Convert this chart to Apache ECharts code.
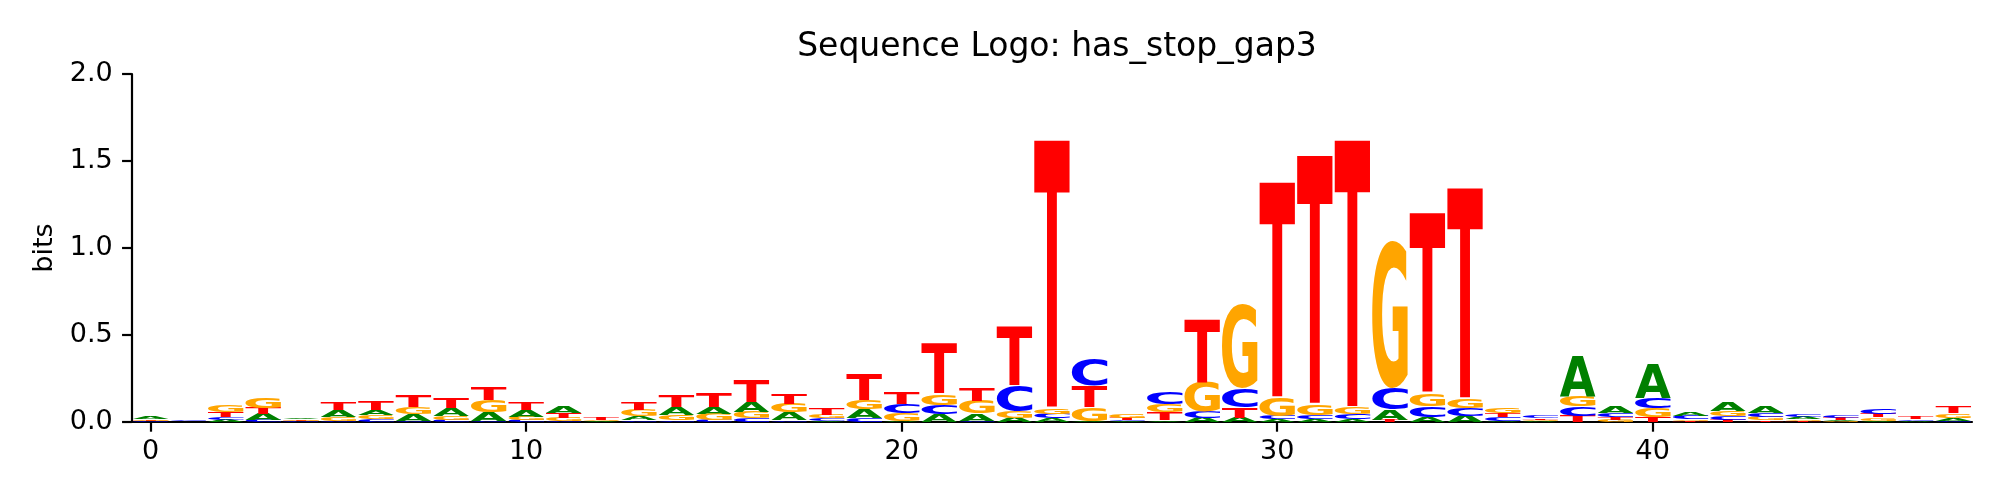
<!DOCTYPE html>
<html>
<head>
<meta charset="utf-8">
<title>Sequence Logo: has_stop_gap3</title>
<style>html,body{margin:0;padding:0;background:#fff;}</style>
</head>
<body>
<div id="main" style="width: 2000px;height:500px;"></div>
<script src="https://cdn.jsdelivr.net/npm/echarts@6/dist/echarts.min.js"></script>
<script>
// information content (bits) per letter
var positions = [0, 1, 2, 3, 4, 5, 6, 7, 8, 9, 10, 11, 12, 13, 14, 15, 16, 17, 18, 19, 20, 21, 22, 23, 24,
    25, 26, 27, 28, 29, 30, 31, 32, 33, 34, 35, 36, 37, 38, 39, 40, 41, 42, 43, 44, 45, 46, 47, 48];
var bitsA = [0.012, 0.001, 0.012, 0.033, 0.010, 0.038, 0.029, 0.038, 0.044, 0.052, 0.036, 0.040, 0.005,
    0.021, 0.046, 0.040, 0.056, 0.045, 0.008, 0.048, 0.006, 0.044, 0.040, 0.025, 0.021, 0.005, 0.005,
    0.010, 0.025, 0.025, 0.015, 0.015, 0.015, 0.061, 0.029, 0.034, 0.004, 0.004, 0.230, 0.033, 0.195,
    0.023, 0.050, 0.034, 0.011, 0.008, 0.008, 0.006, 0.017];
var bitsC = [0.003, 0.005, 0.014, 0.011, 0.003, 0.006, 0.015, 0.006, 0.011, 0.006, 0.011, 0.006, 0.002,
    0.010, 0.010, 0.013, 0.021, 0.010, 0.012, 0.025, 0.050, 0.054, 0.008, 0.149, 0.027, 0.159, 0.009,
    0.067, 0.034, 0.111, 0.019, 0.025, 0.029, 0.125, 0.063, 0.048, 0.023, 0.012, 0.057, 0.025, 0.061,
    0.021, 0.023, 0.023, 0.017, 0.015, 0.031, 0.010, 0.008];
var bitsG = [0.008, 0.001, 0.038, 0.065, 0.007, 0.023, 0.023, 0.042, 0.023, 0.067, 0.019, 0.019, 0.006,
    0.036, 0.031, 0.034, 0.038, 0.050, 0.020, 0.052, 0.046, 0.065, 0.074, 0.038, 0.031, 0.079, 0.025,
    0.048, 0.167, 0.484, 0.105, 0.061, 0.038, 0.850, 0.071, 0.052, 0.029, 0.007, 0.058, 0.012, 0.050,
    0.010, 0.031, 0.019, 0.010, 0.003, 0.018, 0.002, 0.025];
var bitsT = [0.005, 0.001, 0.030, 0.035, 0.005, 0.044, 0.054, 0.069, 0.057, 0.077, 0.044, 0.027, 0.011,
    0.044, 0.069, 0.084, 0.130, 0.060, 0.033, 0.153, 0.067, 0.287, 0.077, 0.339, 1.540, 0.123, 0.011,
    0.044, 0.360, 0.061, 1.238, 1.430, 1.537, 0.011, 1.030, 1.209, 0.025, 0.009, 0.034, 0.015, 0.029,
    0.006, 0.012, 0.010, 0.006, 0.013, 0.019, 0.013, 0.033];
var letters = ['A', 'C', 'G', 'T'];
var colors = ['#008000', '#0000ff', '#ffa500', '#ff0000'];
var xTicks = [0, 10, 20, 30, 40];

var letterWidth = 0.95;
var glyphFont = 'bold 200px "DejaVu Sans"';
var axisFont = '"DejaVu Sans"';

// ink box of each glyph, relative to a left / middle anchored text
var cv = document.createElement('canvas').getContext('2d');
cv.font = glyphFont;
cv.textBaseline = 'middle';
cv.textAlign = 'left';
var inks = letters.map(function (l) {
    var m = cv.measureText(l);
    var left = -m.actualBoundingBoxLeft, right = m.actualBoundingBoxRight;
    var top = -m.actualBoundingBoxAscent, bottom = m.actualBoundingBoxDescent;
    return {left: left, top: top, w: right - left, h: bottom - top};
});

// stack letters per position, smallest at the bottom
var cols = [bitsA, bitsC, bitsG, bitsT];
var stacks = [];
positions.forEach(function (p, i) {
    var items = cols.map(function (c, li) { return [c[i], li]; });
    items.sort(function (a, b) { return a[0] - b[0]; });
    var base = 0;
    items.forEach(function (it) {
        stacks.push([p, base, base + it[0], it[1]]);
        base += it[0];
    });
});

function renderItem(params, api) {
    var pos = api.value(0), lo = api.value(1), hi = api.value(2), li = api.value(3);
    var p0 = api.coord([pos - letterWidth / 2, hi]);
    var p1 = api.coord([pos + letterWidth / 2, lo]);
    var w = p1[0] - p0[0], h = p1[1] - p0[1];
    if (h <= 0.05) return;
    var ink = inks[li];
    var sx = w / ink.w, sy = h / ink.h;
    return {
        type: 'text',
        x: p0[0] - sx * ink.left,
        y: p0[1] - sy * ink.top,
        scaleX: sx,
        scaleY: sy,
        style: {
            text: letters[li], x: 0, y: 0,
            font: glyphFont, fill: colors[li],
            align: 'left', verticalAlign: 'middle'
        }
    };
}

var myChart = echarts.init(document.getElementById('main'));
var option = {
    animation: false,
    backgroundColor: '#fff',
    title: {
        text: 'Sequence Logo: has_stop_gap3',
        left: 1052,
        top: 26,
        textAlign: 'center',
        textStyle: {fontFamily: axisFont, fontSize: 33, fontWeight: 'normal', color: '#000'}
    },
    grid: {left: 131.75, right: 28, top: 74, bottom: 78},
    xAxis: {
        type: 'value',
        min: -0.5,
        max: 48.5,
        splitLine: {show: false},
        axisLine: {show: true, onZero: false, lineStyle: {color: '#000', width: 2.2}},
        axisTick: {show: true, length: 9.7, lineStyle: {color: '#000', width: 2.2}, customValues: xTicks},
        axisLabel: {fontFamily: axisFont, fontSize: 27, color: '#000', margin: 16, customValues: xTicks}
    },
    yAxis: {
        type: 'value',
        min: 0,
        max: 2,
        interval: 0.5,
        name: 'bits',
        nameLocation: 'middle',
        nameRotate: 90,
        nameGap: 56,
        nameTextStyle: {fontFamily: axisFont, fontSize: 27, color: '#000'},
        splitLine: {show: false},
        axisLine: {show: true, onZero: false, lineStyle: {color: '#000', width: 2.2}},
        axisTick: {show: true, length: 9.7, lineStyle: {color: '#000', width: 2.2}},
        axisLabel: {
            fontFamily: axisFont, fontSize: 27, color: '#000', margin: 19,
            formatter: function (v) { return v.toFixed(1); }
        }
    },
    series: [{
        type: 'custom',
        renderItem: renderItem,
        data: stacks,
        encode: {x: 0, y: [1, 2]},
        clip: true,
        silent: true
    }]
};
myChart.setOption(option);
</script>
</body>
</html>
